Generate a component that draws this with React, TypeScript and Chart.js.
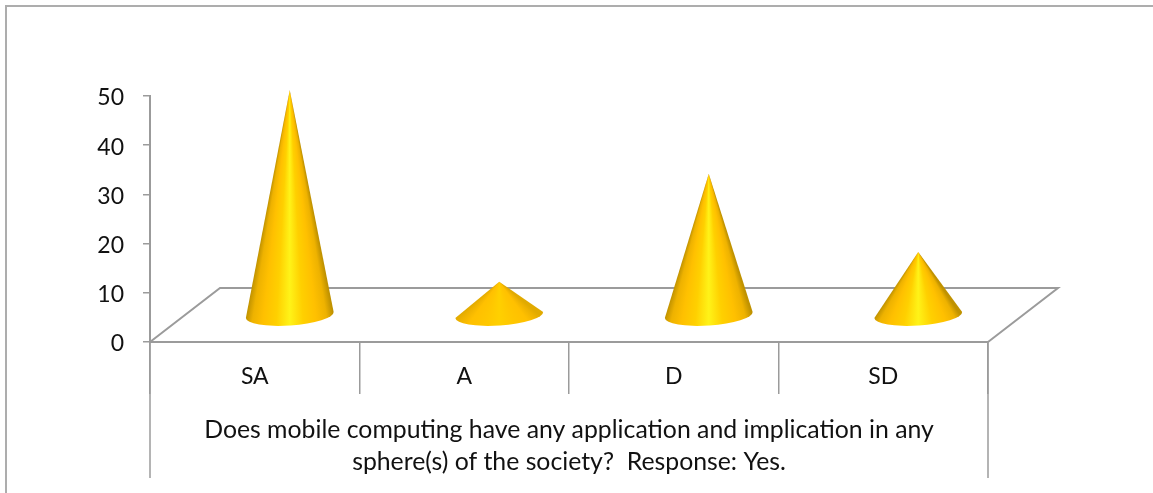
import React, { useEffect, useRef } from "react";
import { Chart, registerables } from "chart.js";

Chart.register(...registerables);

const categories = ["SA", "A", "D", "SD"];
const responses = [50, 7.4, 31.4, 14];
const axisTitleLines = [
  "Does mobile computing have any application and implication in any",
  "sphere(s) of the society?  Response: Yes.",
];
const yTickValues = [0, 10, 20, 30, 40, 50];

const LINE = "#9b9b9b";
const FRAME = "#adadad";
const TEXT = "#111111";
const FONT = "Lato, Carlito, sans-serif";
const DEPTH_X = 70;
const DEPTH_Y = 54;
const HEIGHT_SCALE = 0.915;
const CONE_RX = 44;
const CONE_RY = 10.5;
const TILT = (-4 * Math.PI) / 180;

const hex = (r: number, g: number, b: number) => `rgb(${r},${g},${b})`;

const sceneryPlugin = {
  id: "scenery",
  beforeDatasetsDraw(chart: any) {
    const { ctx, chartArea: a, width, height } = chart;
    ctx.save();
    // frame
    ctx.strokeStyle = FRAME;
    ctx.lineWidth = 2;
    ctx.beginPath();
    ctx.moveTo(6, height);
    ctx.lineTo(6, 6);
    ctx.lineTo(width, 6);
    ctx.stroke();
    // floor
    ctx.strokeStyle = LINE;
    ctx.lineWidth = 2;
    ctx.beginPath();
    ctx.moveTo(a.left, a.bottom);
    ctx.lineTo(a.left + DEPTH_X, a.bottom - DEPTH_Y);
    ctx.lineTo(a.right + DEPTH_X, a.bottom - DEPTH_Y);
    ctx.lineTo(a.right, a.bottom);
    ctx.stroke();
    // outer multi-level dividers
    ctx.lineWidth = 1.5;
    [a.left, a.right].forEach((x: number) => {
      ctx.beginPath();
      ctx.moveTo(x, a.bottom);
      ctx.lineTo(x, 478);
      ctx.stroke();
    });
    ctx.restore();
  },
  afterDatasetsDraw(chart: any) {
    const { ctx } = chart;
    const meta = chart.getDatasetMeta(0);
    const yScale = chart.scales.y;
    const zero = yScale.getPixelForValue(0);
    meta.data.forEach((bar: any, i: number) => {
      const value = responses[i];
      const cx = bar.x + DEPTH_X / 2;
      const cy = zero - DEPTH_Y / 2;
      const h = (zero - yScale.getPixelForValue(value)) * HEIGHT_SCALE;
      const apexX = cx;
      const apexY = cy - h;
      const ctxAny = ctx as any;
      const grad = ctxAny.createConicGradient(0, apexX, apexY);
      const flat = h < 40;
      const peak = flat ? hex(255, 208, 0) : hex(255, 243, 24);
      const edge = flat ? hex(225, 170, 0) : hex(192, 146, 0);
      const stops: [number, string][] = [
        [0, edge],
        [0.08, hex(238, 178, 0)],
        [0.2, hex(255, 192, 0)],
        [0.35, flat ? hex(255, 198, 0) : hex(255, 208, 0)],
        [0.5, peak],
        [0.65, flat ? hex(255, 198, 0) : hex(255, 208, 0)],
        [0.8, hex(255, 192, 0)],
        [0.92, hex(238, 178, 0)],
        [1, edge],
      ];
      // stops are fractions across the base, converted to angles about the apex
      const angleAt = (f: number) =>
        Math.atan2(h + CONE_RY * 0.3, (0.5 - f) * 2 * CONE_RX);
      const list = stops
        .map(([f, c]) => [angleAt(f) / (2 * Math.PI), c] as [number, string])
        .sort((p, q) => p[0] - q[0]);
      grad.addColorStop(0, list[0][1]);
      list.forEach(([t, c]) => grad.addColorStop(t, c));
      grad.addColorStop(0.75, list[list.length - 1][1]);
      grad.addColorStop(1, list[0][1]);
      const cos = Math.cos(TILT);
      const sin = Math.sin(TILT);
      ctx.save();
      ctx.beginPath();
      ctx.moveTo(apexX, apexY);
      ctx.lineTo(cx + CONE_RX * cos, cy + CONE_RX * sin);
      ctx.ellipse(cx, cy, CONE_RX, CONE_RY, TILT, 0, Math.PI, false);
      ctx.closePath();
      ctx.fillStyle = grad;
      ctx.fill();
      ctx.restore();
    });
  },
};

export default function App() {
  const ref = useRef<HTMLCanvasElement>(null);
  useEffect(() => {
    document.body.style.margin = "0";
    const chart = new Chart(ref.current as HTMLCanvasElement, {
      type: "bar",
      data: {
        labels: categories,
        datasets: [
          {
            label: "Response",
            data: responses,
            backgroundColor: "rgba(0,0,0,0)",
            borderWidth: 0,
          },
        ],
      },
      options: {
        responsive: false,
        animation: false,
        layout: { padding: { left: 0, top: 96, right: 165, bottom: 0 } },
        plugins: {
          legend: { display: false },
          tooltip: { enabled: false },
        },
        scales: {
          x: {
            afterFit: (s: any) => {
              s.height = 151;
            },
            border: { color: LINE, width: 2 },
            grid: {
              drawOnChartArea: false,
              color: LINE,
              lineWidth: 1.5,
              tickLength: 52,
            },
            ticks: {
              color: TEXT,
              font: { family: FONT, size: 23 },
              padding: -31,
              maxRotation: 0,
            },
            title: {
              display: true,
              text: axisTitleLines,
              color: TEXT,
              font: { family: FONT, size: 24.8, lineHeight: 32 / 24.8 },
              padding: { top: 0, bottom: 15 },
            },
          },
          y: {
            min: 0,
            max: 50,
            afterFit: (s: any) => {
              s.width = 150;
            },
            afterBuildTicks: (s: any) => {
              s.ticks = yTickValues.map((value) => ({ value }));
            },
            border: { color: LINE, width: 2 },
            grid: {
              drawOnChartArea: false,
              color: LINE,
              lineWidth: 1.5,
              tickLength: 7,
            },
            ticks: {
              color: TEXT,
              font: { family: FONT, size: 23 },
              padding: 19,
              labelOffset: 2,
            },
          },
        },
      },
      plugins: [sceneryPlugin],
    } as any);
    return () => chart.destroy();
  }, []);
  return <canvas ref={ref} width={1153} height={493} style={{ display: "block" }} />;
}
